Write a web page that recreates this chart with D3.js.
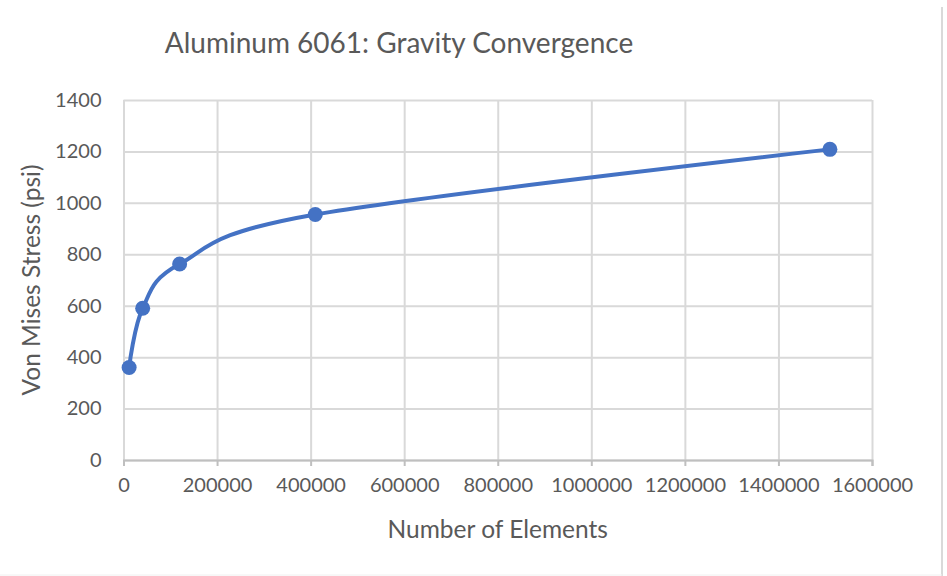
<!DOCTYPE html>
<html>
<head>
<meta charset="utf-8">
<script src="https://cdn.jsdelivr.net/npm/d3@7"></script>
<style>
  body { margin: 0; background: #fff; }
  svg text { font-family: Lato, "Open Sans", sans-serif; fill: #595959; }
</style>
</head>
<body>
<div id="chart"></div>
<script>
// values
const elements = [12000, 41000, 120000, 410000, 1510000];
const stress = [360, 590, 762, 955, 1208];
const xTicks = [0, 200000, 400000, 600000, 800000, 1000000, 1200000, 1400000, 1600000];
const yTicks = [0, 200, 400, 600, 800, 1000, 1200, 1400];

const width = 947, height = 576;
const margin = { top: 100, right: 75, bottom: 116, left: 123.5 };
const innerW = width - margin.left - margin.right;
const innerH = height - margin.top - margin.bottom;

const svg = d3.select("#chart")
  .append("svg")
  .attr("width", width)
  .attr("height", height);

// outer frame (right and bottom edges visible in the reference)
svg.append("line")
  .attr("x1", 942).attr("x2", 942).attr("y1", 7).attr("y2", height)
  .attr("stroke", "#d9d9d9").attr("stroke-width", 2);
svg.append("line")
  .attr("x1", 0).attr("x2", 942).attr("y1", 575).attr("y2", 575)
  .attr("stroke", "#f0f0f0").attr("stroke-width", 1);

const g = svg.append("g")
  .attr("transform", "translate(" + margin.left + "," + margin.top + ")");

const x = d3.scaleLinear()
  .domain([0, 1600000])
  .range([0, innerW]);

const y = d3.scaleLinear()
  .domain([0, 1400])
  .range([innerH, 0]);

// horizontal gridlines
g.append("g")
  .call(d3.axisLeft(y).tickValues(yTicks).tickSize(-innerW).tickFormat(""))
  .call(a => a.select(".domain").remove())
  .selectAll("line").attr("stroke", "#d9d9d9").attr("stroke-width", 2);

// vertical gridlines
g.append("g")
  .call(d3.axisBottom(x).tickValues(xTicks).tickSize(innerH).tickFormat(""))
  .call(a => a.select(".domain").remove())
  .selectAll("line").attr("stroke", "#d9d9d9").attr("stroke-width", 2);

// x axis with small tick marks
const xAxis = g.append("g")
  .attr("transform", "translate(0," + innerH + ")")
  .call(d3.axisBottom(x).tickValues(xTicks).tickSize(6).tickPadding(12).tickFormat(d3.format("d")));
xAxis.select(".domain").attr("stroke", "#bfbfbf").attr("stroke-width", 2);
xAxis.selectAll("line").attr("stroke", "#bfbfbf").attr("stroke-width", 2);
xAxis.selectAll("text").style("font-size", "20px").attr("fill", "#595959");

// y axis labels only
const yAxis = g.append("g")
  .call(d3.axisLeft(y).tickValues(yTicks).tickSize(0).tickPadding(22).tickFormat(d3.format("d")));
yAxis.select(".domain").remove();
yAxis.selectAll("text").style("font-size", "20px").attr("fill", "#595959");

// smoothed series line
const pts = elements.map((e, i) => [e, stress[i]]);
const line = d3.line()
  .x(d => x(d[0]))
  .y(d => y(d[1]))
  .curve(d3.curveCardinal.tension(0));

g.append("path")
  .datum(pts)
  .attr("d", line)
  .attr("fill", "none")
  .attr("stroke", "#4472c4")
  .attr("stroke-width", 4);

g.selectAll(".dot")
  .data(pts)
  .enter()
  .append("circle")
  .attr("cx", d => x(d[0]))
  .attr("cy", d => y(d[1]))
  .attr("r", 7.5)
  .attr("fill", "#4472c4");

// titles
svg.append("text")
  .attr("x", 399).attr("y", 53)
  .attr("text-anchor", "middle")
  .style("font-size", "28px")
  .text("Aluminum 6061: Gravity Convergence");

svg.append("text")
  .attr("x", margin.left + innerW / 2).attr("y", 538)
  .attr("text-anchor", "middle")
  .style("font-size", "24.5px")
  .text("Number of Elements");

svg.append("text")
  .attr("transform", "translate(40," + (margin.top + innerH / 2) + ") rotate(-90)")
  .attr("text-anchor", "middle")
  .style("font-size", "24.5px")
  .text("Von Mises Stress (psi)");
</script>
</body>
</html>
